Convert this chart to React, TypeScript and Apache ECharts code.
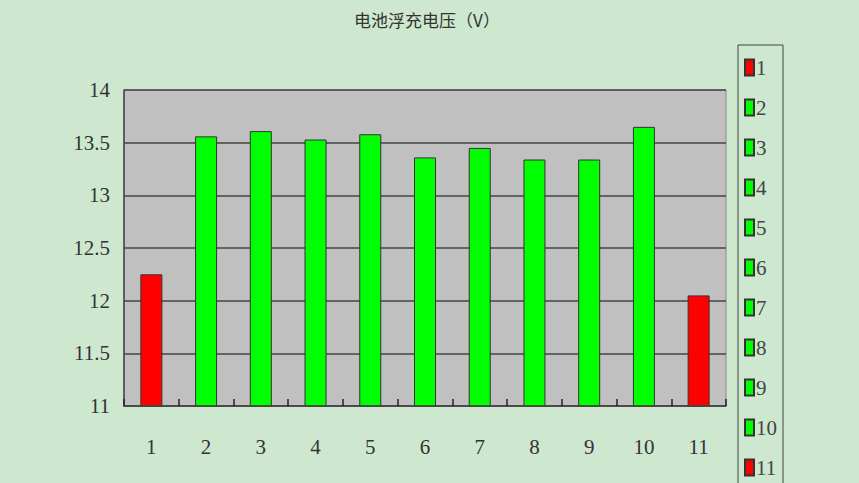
import React, { useEffect, useRef } from 'react';
import * as echarts from 'echarts';

const categories = ['1', '2', '3', '4', '5', '6', '7', '8', '9', '10', '11'];
const voltages = [12.25, 13.56, 13.61, 13.53, 13.58, 13.36, 13.45, 13.34, 13.34, 13.65, 12.05];
const barColors = ['#ff0000', '#00ff00', '#00ff00', '#00ff00', '#00ff00', '#00ff00', '#00ff00', '#00ff00', '#00ff00', '#00ff00', '#ff0000'];

const numFont = '"Liberation Serif", serif';

const App: React.FC = () => {
	const chartRef = useRef<HTMLDivElement>(null);

	useEffect(() => {
		if (!chartRef.current) return;
		document.body.style.margin = '0';
		document.body.style.overflow = 'hidden';
		const chart = echarts.init(chartRef.current, undefined, { renderer: 'svg' });

		// one series per bar so the legend lists each of them
		const series = categories.map((name, i) => ({
			name,
			type: 'bar' as const,
			stack: 'all',
			barWidth: 22,
			data: voltages.map((v, j) => (j === i ? v : '-')),
			itemStyle: {
				color: barColors[i],
				borderColor: '#333',
				borderWidth: 1
			}
		}));

		const option: echarts.EChartsOption = {
			animation: false,
			backgroundColor: '#cde8cf',
			title: {
				text: '电池浮充电压（V）',
				left: 422,
				textAlign: 'center',
				top: 6,
				textStyle: {
					color: '#333',
					fontSize: 17,
					fontWeight: 'normal',
					fontFamily: '"Noto Sans CJK SC", sans-serif'
				}
			},
			legend: {
				orient: 'vertical',
				left: 738,
				top: 45,
				padding: [12, 6, 20, 6],
				itemGap: 19,
				itemWidth: 9,
				itemHeight: 16,
				icon: 'rect',
				borderColor: '#444',
				borderWidth: 1,
				data: categories,
				textStyle: {
					color: '#444',
					fontSize: 21,
					fontFamily: numFont,
					padding: [0, 0, 0, -3]
				}
			},
			grid: {
				left: 124,
				right: 133,
				top: 90,
				bottom: 154,
				show: true,
				backgroundColor: '#c0c0c0',
				borderColor: '#888',
				borderWidth: 1
			},
			xAxis: {
				type: 'category',
				data: categories,
				z: 5,
				axisLine: { lineStyle: { color: '#444', width: 1.5 } },
				axisTick: {
					show: true,
					interval: 0,
					alignWithLabel: false,
					inside: true,
					length: 7,
					lineStyle: { color: '#222', width: 1.5 }
				},
				axisLabel: {
					margin: 30,
					color: '#333',
					fontSize: 21,
					fontFamily: numFont
				}
			},
			yAxis: {
				type: 'value',
				min: 11,
				max: 14,
				interval: 0.5,
				axisLine: { show: true, lineStyle: { color: '#444', width: 1.5 } },
				axisTick: { show: false },
				splitLine: { lineStyle: { color: '#444', width: 1.5 } },
				axisLabel: {
					margin: 14,
					color: '#333',
					fontSize: 21,
					fontFamily: numFont
				}
			},
			series
		};

		chart.setOption(option);

		return () => {
			chart.dispose();
		};
	}, []);

	// taller than the window: the legend box runs past the bottom edge as in the reference
	return <div ref={chartRef} style={{ width: '859px', height: '560px' }} />;
};

export default App;
